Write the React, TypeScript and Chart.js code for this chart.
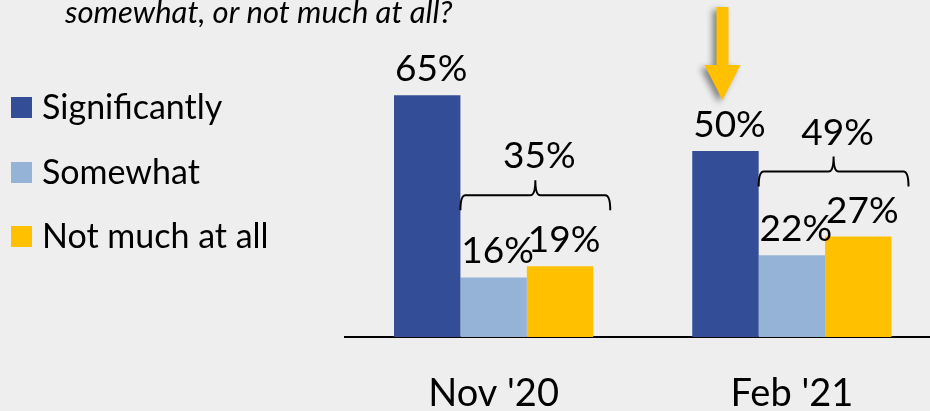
import React, { useEffect, useRef } from "react";
import { Chart, registerables } from "chart.js";

Chart.register(...registerables);

const categories = ["Nov '20", "Feb '21"];
const seriesNames = ["Significantly", "Somewhat", "Not much at all"];
const significantly = [65, 50];
const somewhat = [16, 22];
const notMuch = [19, 27];
const combinedTotals = ["35%", "49%"];
const questionText = "somewhat, or not much at all?";

const COLORS = ["#334e97", "#95b3d7", "#ffc000"];
const BG = "#eeeeee";
const FONT = "Lato, 'Noto Sans', sans-serif";

const decorPlugin = {
  id: "decor",
  beforeDraw(chart: any) {
    const ctx = chart.ctx;
    ctx.save();
    ctx.fillStyle = BG;
    ctx.fillRect(0, 0, chart.width, chart.height);
    ctx.restore();
  },
  afterDatasetsDraw(chart: any) {
    const ctx = chart.ctx;
    const metas = [0, 1, 2].map((i) => chart.getDatasetMeta(i));
    ctx.save();
    // value labels
    ctx.fillStyle = "#000";
    ctx.font = `37px ${FONT}`;
    ctx.textAlign = "center";
    ctx.textBaseline = "alphabetic";
    metas.forEach((meta: any, di: number) => {
      meta.data.forEach((el: any, i: number) => {
        const v = chart.data.datasets[di].data[i];
        ctx.fillText(`${v}%`, el.x + 4, el.y - 14);
      });
    });
    // braces
    const gaps = [71, 65];
    categories.forEach((_, i) => {
      const a = metas[1].data[i];
      const b = metas[2].data[i];
      const x1 = a.x - a.width / 2;
      const x2 = b.x + b.width / 2 + 17;
      const y = Math.min(a.y, b.y) - gaps[i];
      const xm = (x1 + x2) / 2;
      const h = 15;
      const r = 5;
      ctx.strokeStyle = "#000";
      ctx.lineWidth = 2;
      ctx.beginPath();
      ctx.moveTo(x1, y + h);
      ctx.quadraticCurveTo(x1, y, x1 + r, y);
      ctx.lineTo(xm - r, y);
      ctx.quadraticCurveTo(xm, y, xm, y - h);
      ctx.quadraticCurveTo(xm, y, xm + r, y);
      ctx.lineTo(x2 - r, y);
      ctx.quadraticCurveTo(x2, y, x2, y + h);
      ctx.stroke();
      ctx.fillText(combinedTotals[i], xm + 4, y - h - 12);
    });
    // arrow over Feb significantly
    const t = metas[0].data[1];
    const cx = t.x - 3;
    ctx.save();
    ctx.shadowColor = "rgba(0,0,0,0.45)";
    ctx.shadowBlur = 6;
    ctx.shadowOffsetX = -4;
    ctx.shadowOffsetY = 3;
    ctx.fillStyle = "#ffc000";
    ctx.beginPath();
    ctx.moveTo(cx - 6, 7);
    ctx.lineTo(cx + 6, 7);
    ctx.lineTo(cx + 6, 65);
    ctx.lineTo(cx + 18, 65);
    ctx.lineTo(cx, 100);
    ctx.lineTo(cx - 18, 65);
    ctx.lineTo(cx - 6, 65);
    ctx.closePath();
    ctx.fill();
    ctx.restore();
    // legend
    const ly = [97, 162, 226];
    ctx.font = `34px ${FONT}`;
    ctx.textAlign = "left";
    ctx.textBaseline = "middle";
    seriesNames.forEach((n, i) => {
      ctx.fillStyle = COLORS[i];
      ctx.fillRect(11, ly[i], 21, 21);
      ctx.fillStyle = "#000";
      ctx.fillText(n, 42, ly[i] + 11);
    });
    // question text
    ctx.font = `italic 31px ${FONT}`;
    ctx.textBaseline = "alphabetic";
    ctx.fillText(questionText, 65, 23);
    ctx.restore();
  },
};

export default function App() {
  const ref = useRef<HTMLCanvasElement>(null);
  useEffect(() => {
    const chart = new Chart(ref.current!, {
      type: "bar",
      data: {
        labels: categories,
        datasets: [
          { label: seriesNames[0], data: significantly, backgroundColor: COLORS[0] },
          { label: seriesNames[1], data: somewhat, backgroundColor: COLORS[1] },
          { label: seriesNames[2], data: notMuch, backgroundColor: COLORS[2] },
        ],
      },
      options: {
        animation: false,
        responsive: false,
        events: [],
        layout: { padding: { left: 344.5, right: 0, top: 39.4, bottom: 0 } },
        datasets: { bar: { categoryPercentage: 0.668, barPercentage: 1 } },
        plugins: { legend: { display: false }, tooltip: { enabled: false } },
        scales: {
          x: {
            grid: { display: false },
            border: { display: true, color: "#000", width: 2 },
            ticks: {
              color: "#000",
              font: { family: FONT, size: 38, lineHeight: 1.2 },
              padding: 26,
              maxRotation: 0,
            },
            afterFit: (s: any) => {
              s.height = 74;
            },
          },
          y: { display: false, min: 0, max: 80 },
        },
      },
      plugins: [decorPlugin],
    });
    return () => chart.destroy();
  }, []);
  return (
    <div style={{ position: "fixed", left: 0, top: 0, width: 930, height: 411, overflow: "hidden", background: BG }}>
      <canvas ref={ref} width={941} height={411} style={{ display: "block" }} />
    </div>
  );
}
